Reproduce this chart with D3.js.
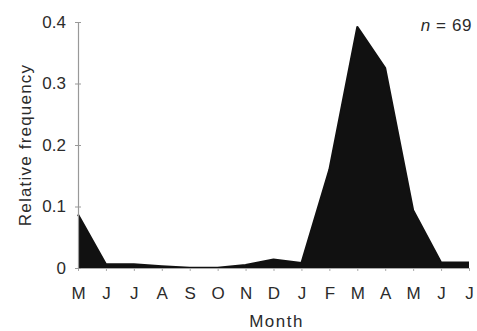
<!DOCTYPE html>
<html>
<head>
<meta charset="utf-8">
<script src="https://cdn.jsdelivr.net/npm/d3@7/dist/d3.min.js"></script>
<style>
  html, body { margin: 0; padding: 0; background: #fff; }
  svg { display: block; }
  text { font-family: "Liberation Sans", Arial, Helvetica, sans-serif; fill: #2b2b2b; }
</style>
</head>
<body>
<svg id="chart" width="477" height="331"></svg>
<script>
// Month sequence (May through the following July)
const months = ["M", "J", "J", "A", "S", "O", "N", "D", "J", "F", "M", "A", "M", "J", "J"];
// Relative frequency per month
const freq = [0.087, 0.006, 0.006, 0.003, 0.0005, 0.0005, 0.005, 0.014, 0.008, 0.16, 0.392, 0.325, 0.094, 0.009, 0.009];
// Y axis tick values and labels
const yTicks = [0, 0.1, 0.2, 0.3, 0.4];
const yTickLabels = ["0", "0.1", "0.2", "0.3", "0.4"];
const sampleSize = 69;

const svg = d3.select("#chart");
const margin = { left: 78, right: 8, top: 22, bottom: 63 };
const W = 477, H = 331;

const x = d3.scaleLinear().domain([0, months.length - 1]).range([margin.left, W - margin.right]);
const y = d3.scaleLinear().domain([0, 0.4]).range([H - margin.bottom, margin.top]);

// Filled frequency profile
const area = d3.area()
  .x((d, i) => x(i))
  .y0(y(0))
  .y1(d => y(d));
const line = d3.line()
  .x((d, i) => x(i))
  .y(d => y(d));

svg.append("path")
  .datum(freq)
  .attr("d", area)
  .attr("fill", "#111");
svg.append("path")
  .datum(freq)
  .attr("d", line)
  .attr("fill", "none")
  .attr("stroke", "#111")
  .attr("stroke-width", 2)
  .attr("stroke-linejoin", "round");

// X axis
const xAxis = d3.axisBottom(x)
  .tickValues(d3.range(months.length))
  .tickFormat(i => months[i])
  .tickSizeInner(3)
  .tickSizeOuter(0)
  .tickPadding(16);
const gx = svg.append("g")
  .attr("transform", `translate(0,${y(0)})`)
  .call(xAxis);
gx.select(".domain").attr("stroke", "#aaa").attr("stroke-width", 1);
gx.selectAll(".tick line").attr("stroke", "#aaa");
gx.selectAll(".tick text")
  .style("font-size", "17px")
  .attr("fill", "#2b2b2b");

// Y axis (ticks cross the axis line)
const yAxis = d3.axisLeft(y)
  .tickValues(yTicks)
  .tickFormat((d, i) => yTickLabels[i])
  .tickSizeInner(3)
  .tickSizeOuter(0)
  .tickPadding(9);
const gy = svg.append("g")
  .attr("transform", `translate(${margin.left},0)`)
  .call(yAxis);
gy.select(".domain").attr("stroke", "#999").attr("stroke-width", 1.2);
gy.selectAll(".tick line").attr("stroke", "#999").attr("x1", 3).attr("x2", -3);
gy.selectAll(".tick text")
  .style("font-size", "17px")
  .attr("fill", "#2b2b2b");

// Axis titles
svg.append("text")
  .attr("transform", `translate(31,${(margin.top + H - margin.bottom) / 2}) rotate(-90)`)
  .attr("text-anchor", "middle")
  .style("font-size", "17px")
  .style("letter-spacing", "1.2px")
  .text("Relative frequency");

svg.append("text")
  .attr("x", (margin.left + W - margin.right) / 2 + 3)
  .attr("y", 327)
  .attr("text-anchor", "middle")
  .style("font-size", "17px")
  .style("letter-spacing", "1.5px")
  .text("Month");

// Sample size annotation
const nLabel = svg.append("text")
  .attr("x", W - 5)
  .attr("y", 31)
  .attr("text-anchor", "end")
  .style("font-size", "17px")
  .style("letter-spacing", "0.6px");
nLabel.append("tspan").style("font-style", "italic").text("n");
nLabel.append("tspan").text(" = " + sampleSize);
</script>
</body>
</html>
